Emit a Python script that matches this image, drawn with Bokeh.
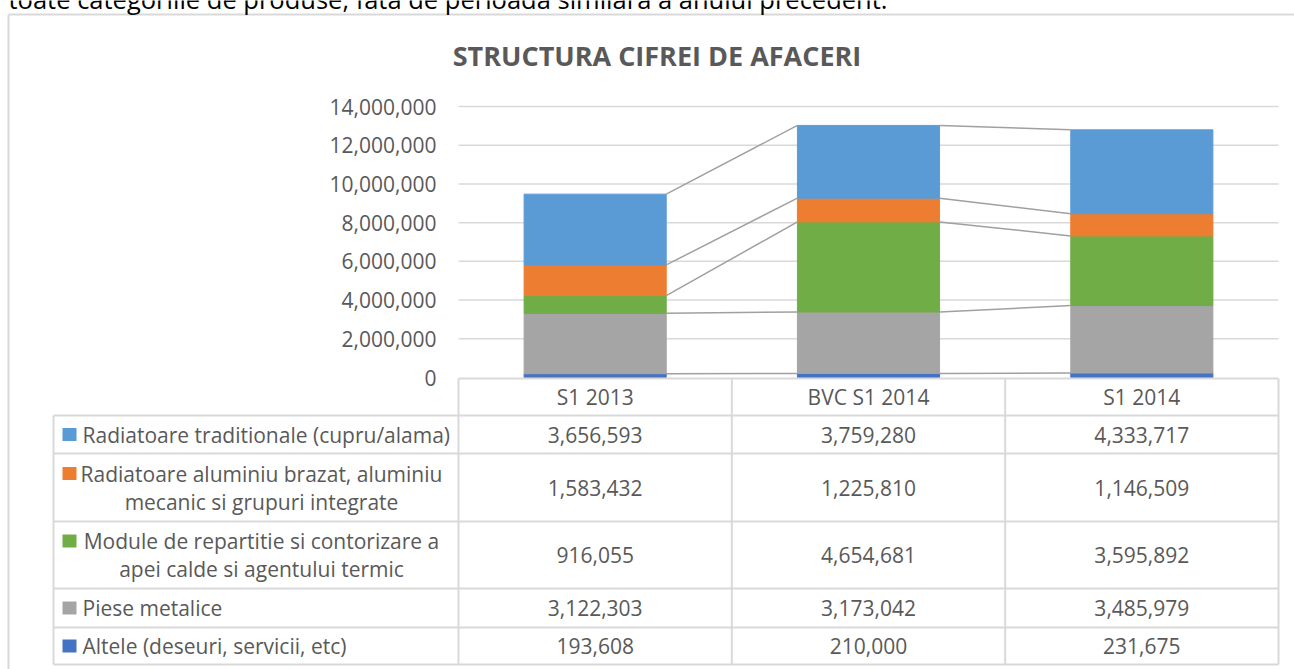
from bokeh.plotting import figure
from bokeh.models import Range1d, Label
from bokeh.core.properties import value
from bokeh.embed import file_html
from bokeh.resources import INLINE

# ---------------- data ----------------
categories = ["S1 2013", "BVC S1 2014", "S1 2014"]
series_names = [
    "Radiatoare traditionale (cupru/alama)",
    "Radiatoare aluminiu brazat, aluminiu mecanic si grupuri integrate",
    "Module de repartitie si contorizare a apei calde si agentului termic",
    "Piese metalice",
    "Altele (deseuri, servicii, etc)",
]
legend_lines = [
    ["Radiatoare traditionale (cupru/alama)"],
    ["Radiatoare aluminiu brazat, aluminiu", "mecanic si grupuri integrate"],
    ["Module de repartitie si contorizare a", "apei calde si agentului termic"],
    ["Piese metalice"],
    ["Altele (deseuri, servicii, etc)"],
]
radiatoare_traditionale = [3656593, 3759280, 4333717]
radiatoare_aluminiu = [1583432, 1225810, 1146509]
module_repartitie = [916055, 4654681, 3595892]
piese_metalice = [3122303, 3173042, 3485979]
altele = [193608, 210000, 231675]
y_ticks = [0, 2000000, 4000000, 6000000, 8000000, 10000000, 12000000, 14000000]
y_tick_labels = ["0", "2,000,000", "4,000,000", "6,000,000", "8,000,000",
                 "10,000,000", "12,000,000", "14,000,000"]
title_text = "STRUCTURA CIFREI DE AFACERI"
top_text = "toate categoriile de produse, fata de perioada similara a anului precedent."

# table rows from top to bottom, bars stacked from bottom to top
table_series = [radiatoare_traditionale, radiatoare_aluminiu, module_repartitie,
                piese_metalice, altele]
colors = ["#5B9BD5", "#ED7D31", "#70AD47", "#A5A5A5", "#4472C4"]

# ---------------- layout (screen pixels) ----------------
W, H = 1294, 669
FONT = "Open Sans"
TXT = "#595959"
GRID = "#D9D9D9"

def sy(y):  # screen y (top-down) -> data-up pixel coordinate
    return H - y

plot_left, plot_right = 458, 1278
y0_screen, ytop_screen = 377, 106
col_w = (plot_right - plot_left) / len(categories)

p = figure(width=W, height=H, output_backend="svg", toolbar_location=None,
           x_range=Range1d(0, W), y_range=Range1d(0, H),
           x_axis_location=None, y_axis_location=None,
           min_border=0, min_border_left=0, min_border_right=0,
           min_border_top=0, min_border_bottom=0)
p.outline_line_color = None
p.grid.visible = False
p.background_fill_color = "white"
p.border_fill_color = "white"

# value range: 0 at screen y0, 14M at screen ytop
ppv = (sy(ytop_screen) - sy(y0_screen)) / y_ticks[-1]
v_start = -sy(y0_screen) / ppv
p.extra_y_ranges = {"val": Range1d(v_start, v_start + H / ppv)}
# category index range: index i at column centre
c_start = -0.5 - plot_left / col_w
p.extra_x_ranges = {"cat": Range1d(c_start, c_start + W / col_w)}

# outer border and cut-off paragraph above
p.segment(x0=[8, 8], y0=[sy(14), sy(14)], x1=[W, 8], y1=[sy(14), 0],
          line_color=GRID, line_width=2)
p.add_layout(Label(x=8, y=sy(-2), x_units="screen", y_units="screen",
                   text=top_text, text_font=FONT, text_font_size="25.5px",
                   text_color="black", text_baseline="alphabetic"))

# title
p.text(x=[656.5], y=[sy(54.5)], text=[title_text],
       text_font=value(FONT), text_font_size="27px", text_font_style="bold",
       text_color=TXT, text_align="center", text_baseline="middle")

# gridlines
idx = list(range(len(categories)))
gx0 = [-0.5] * (len(y_ticks) - 1)
gx1 = [len(categories) - 0.5] * (len(y_ticks) - 1)
p.segment(x0=gx0, x1=gx1, y0=y_ticks[1:], y1=y_ticks[1:], line_color=GRID,
          line_width=1.5, x_range_name="cat", y_range_name="val")

# y tick labels
p.text(x=[436] * len(y_ticks), y=y_ticks, text=y_tick_labels,
       text_font=value(FONT), text_font_size="21px", text_color=TXT,
       text_align="right", text_baseline="middle", y_range_name="val")

# stacked bars (bottom -> top)
bar_w = 0.52
stack_order = list(reversed(range(len(table_series))))
bottoms = [0] * len(categories)
levels = []
for k in stack_order:
    vals = table_series[k]
    tops = [b + v for b, v in zip(bottoms, vals)]
    p.vbar(x=idx, bottom=bottoms, top=tops, width=bar_w, fill_color=colors[k],
           line_color=colors[k], line_width=1,
           x_range_name="cat", y_range_name="val")
    levels.append(tops)
    bottoms = tops

# series lines between the stacks
for tops in levels:
    p.segment(x0=[i + bar_w / 2 for i in idx[:-1]], y0=tops[:-1],
              x1=[i + 1 - bar_w / 2 for i in idx[:-1]], y1=tops[1:],
              line_color="#A0A0A0", line_width=1.5,
              x_range_name="cat", y_range_name="val")

# ---------------- data table ----------------
row_lines = [415, 453, 521, 588, 627, 664]
tbl_left = 53
col_lines = [plot_left + col_w * i for i in range(len(categories) + 1)]
# horizontal lines
p.segment(x0=[plot_left], x1=[plot_right], y0=[sy(378)], y1=[sy(378)],
          line_color=GRID, line_width=2)
p.segment(x0=[tbl_left] * len(row_lines), x1=[plot_right] * len(row_lines),
          y0=[sy(r) for r in row_lines], y1=[sy(r) for r in row_lines],
          line_color=GRID, line_width=2)
# vertical lines
p.segment(x0=[tbl_left], x1=[tbl_left], y0=[sy(row_lines[0])], y1=[sy(row_lines[-1])],
          line_color=GRID, line_width=2)
p.segment(x0=col_lines, x1=col_lines, y0=[sy(378)] * len(col_lines),
          y1=[sy(row_lines[-1])] * len(col_lines), line_color=GRID, line_width=2)

# header: categories
p.text(x=idx, y=[sy(396)] * len(categories), text=categories,
       text_font=value(FONT), text_font_size="21px", text_color=TXT,
       text_align="center", text_baseline="middle", x_range_name="cat")

# values and legend
for r, vals in enumerate(table_series):
    yc = (row_lines[r] + row_lines[r + 1]) / 2
    p.text(x=idx, y=[sy(yc)] * len(vals), text=[f"{v:,}" for v in vals],
           text_font=value(FONT), text_font_size="21px", text_color=TXT,
           text_align="center", text_baseline="middle", x_range_name="cat")
    lines = legend_lines[r]
    if len(lines) == 1:
        p.rect(x=[69], y=[sy(yc)], width=14, height=13, fill_color=colors[r],
               line_color=None)
        p.text(x=[82], y=[sy(yc)], text=lines, text_font=value(FONT),
               text_font_size="21px", text_color=TXT, text_align="left",
               text_baseline="middle")
    else:
        ys = [yc - 14, yc + 14]
        p.rect(x=[69], y=[sy(ys[0])], width=14, height=13, fill_color=colors[r],
               line_color=None)
        p.text(x=[261, 261], y=[sy(v) for v in ys], text=lines,
               text_font=value(FONT), text_font_size="21px", text_color=TXT,
               text_align="center", text_baseline="middle")

open("out.html", "w").write(file_html(p, INLINE))
